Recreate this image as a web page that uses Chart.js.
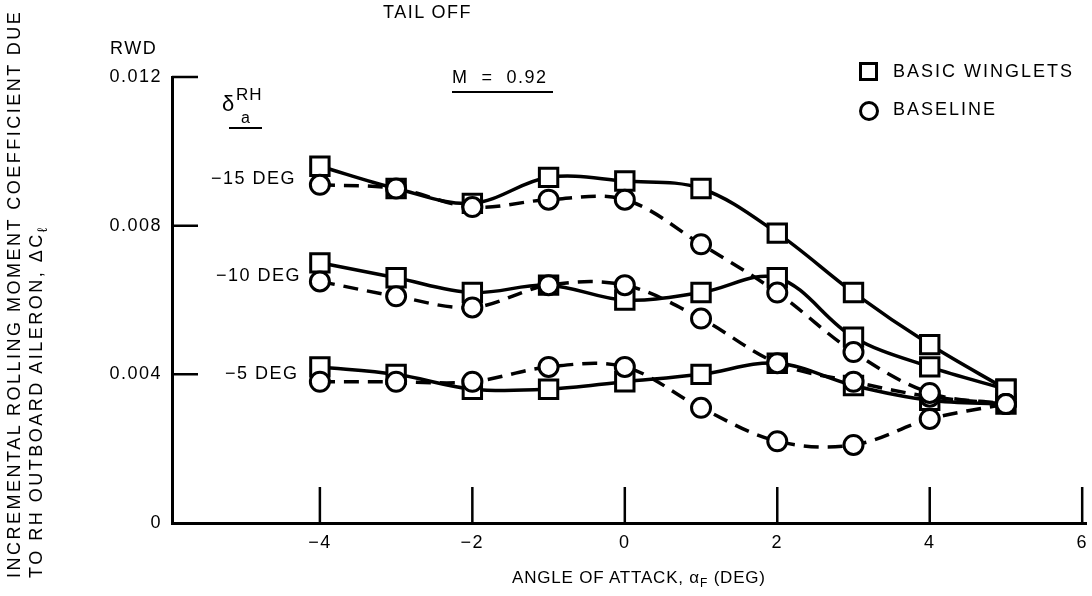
<!DOCTYPE html>
<html>
<head>
<meta charset="utf-8">
<script src="https://cdn.jsdelivr.net/npm/chart.js@4/dist/chart.umd.min.js"></script>
<style>
  body { margin: 0; background: #fff; }
  #wrap { position: relative; width: 1092px; height: 596px; overflow: hidden; font-family: "Liberation Sans", Arial, sans-serif; color: #000; }
  #wrap canvas { position: absolute; left: 0; top: 0; }
  .txt { position: absolute; white-space: nowrap; font-size: 18px; line-height: 20px; letter-spacing: 1.5px; }
  .rule { position: absolute; height: 2px; background: #000; }
  .ytitle { position: absolute; left: 0; top: 596px; width: 590px; padding-left: 18px; padding-top: 3px;
            transform: rotate(-90deg); transform-origin: 0 0; font-size: 18px; line-height: 22px; letter-spacing: 2.5px; white-space: nowrap; }
  .key-sq { position: absolute; width: 13px; height: 13px; border: 3px solid #000; }
  .key-ci { position: absolute; width: 14px; height: 14px; border: 3px solid #000; border-radius: 50%; }
</style>
</head>
<body>
<div id="wrap">
  <!-- a little wider than the page: the line points reserve 16px of overflow on the right -->
  <canvas id="chart" width="1102" height="596"></canvas>

  <div class="txt" style="left:383px; top:2px;">TAIL OFF</div>
  <div class="txt" style="left:110px; top:38px;">RWD</div>

  <div class="txt" style="left:452px; top:67px;">M&nbsp; = &nbsp;0.92</div>
  <div class="rule" style="left:452px; top:91px; width:101px;"></div>

  <div class="key-sq" style="left:859px; top:62px;"></div>
  <div class="txt" style="left:893px; top:61px; letter-spacing:2px;">BASIC WINGLETS</div>
  <div class="key-ci" style="left:859px; top:101px;"></div>
  <div class="txt" style="left:893px; top:99px; letter-spacing:2px;">BASELINE</div>

  <div class="txt" style="left:222px; top:94px; font-size:22px;">δ</div>
  <div class="txt" style="left:236px; top:85px; font-size:17px; letter-spacing:1px;">RH</div>
  <div class="txt" style="left:241px; top:108px; font-size:16px;">a</div>
  <div class="rule" style="left:229px; top:127px; width:33px;"></div>

  <div class="txt" style="left:211px; top:168px;">−15 DEG</div>
  <div class="txt" style="left:216px; top:265px;">−10 DEG</div>
  <div class="txt" style="left:225px; top:363px;">−5 DEG</div>

  <div class="ytitle">INCREMENTAL ROLLING MOMENT COEFFICIENT DUE<br>TO RH OUTBOARD AILERON, ΔC<sub style="font-size:14px;">ℓ</sub></div>
  <div class="txt" style="left:512px; top:568px; font-size:17px; letter-spacing:0.8px;">ANGLE OF ATTACK, α<sub style="font-size:12px;">F</sub> (DEG)</div>
</div>

<script>
// angle of attack, deg
const alpha = [-4, -3, -2, -1, 0, 1, 2, 3, 4, 5];

// incremental rolling moment, basic winglets (squares, solid)
const winglets15 = [0.0096, 0.0090, 0.0086, 0.0093, 0.0092, 0.0090, 0.0078, 0.0062, 0.0048, 0.0036];
const winglets10 = [0.0070, 0.0066, 0.0062, 0.0064, 0.0060, 0.0062, 0.0066, 0.0050, 0.0042, 0.0036];
const winglets5  = [0.0042, 0.0040, 0.0036, 0.0036, 0.0038, 0.0040, 0.0043, 0.0037, 0.0033, 0.0032];

// incremental rolling moment, baseline (circles, dashed)
const baseline15 = [0.0091, 0.0090, 0.0085, 0.0087, 0.0087, 0.0075, 0.0062, 0.0046, 0.0035, 0.0032];
const baseline10 = [0.0065, 0.0061, 0.0058, 0.0064, 0.0064, 0.0055, 0.0043, 0.0038, 0.0034, 0.0032];
const baseline5  = [0.0038, 0.0038, 0.0038, 0.0042, 0.0042, 0.0031, 0.0022, 0.0021, 0.0028, 0.0032];

const xTicks = [-4, -2, 0, 2, 4, 6];
const yTicks = [0, 0.004, 0.008, 0.012];

const INK = '#000';
const FONT = '"Liberation Sans", Arial, sans-serif';

function points(values) {
  return values.map((v, i) => ({ x: alpha[i], y: v }));
}

function baselineSet(label, values) {
  return {
    label: label,
    data: points(values),
    borderColor: INK,
    borderWidth: 3.5,
    borderDash: [15, 9],
    tension: 0.35,
    pointStyle: 'circle',
    pointRadius: 9.5,
    pointBorderWidth: 3,
    pointBackgroundColor: '#fff',
    pointBorderColor: INK,
  };
}

function wingletSet(label, values) {
  return {
    label: label,
    data: points(values),
    borderColor: INK,
    borderWidth: 3.5,
    tension: 0.35,
    pointStyle: 'rect',
    pointRadius: 13,
    pointBorderWidth: 3,
    pointBackgroundColor: '#fff',
    pointBorderColor: INK,
  };
}

// tick marks point into the plot, not outward
const innerTicks = {
  id: 'innerTicks',
  beforeDatasetsDraw(chart) {
    const { ctx, chartArea, scales: { x, y } } = chart;
    ctx.save();
    ctx.strokeStyle = INK;
    ctx.lineWidth = 2.5;
    ctx.beginPath();
    x.ticks.forEach(t => {
      const px = x.getPixelForValue(t.value);
      ctx.moveTo(px, chartArea.bottom);
      ctx.lineTo(px, chartArea.bottom - 36);
    });
    y.ticks.forEach(t => {
      if (t.value === 0) return;
      const py = y.getPixelForValue(t.value);
      ctx.moveTo(chartArea.left, py);
      ctx.lineTo(chartArea.left + 26, py);
    });
    ctx.stroke();
    ctx.restore();
  }
};

const spacing = {
  id: 'spacing',
  beforeDraw(chart) {
    chart.ctx.letterSpacing = '1.5px';
  }
};

new Chart(document.getElementById('chart'), {
  type: 'line',
  data: {
    datasets: [
      baselineSet('-15 baseline', baseline15),
      baselineSet('-10 baseline', baseline10),
      baselineSet('-5 baseline', baseline5),
      wingletSet('-15 winglets', winglets15),
      wingletSet('-10 winglets', winglets10),
      wingletSet('-5 winglets', winglets5),
    ]
  },
  options: {
    responsive: false,
    animation: false,
    layout: { padding: { left: 0, top: 77, right: 0, bottom: 0 } },
    plugins: {
      legend: { display: false },
      tooltip: { enabled: false },
    },
    scales: {
      x: {
        type: 'linear',
        min: -5.94,
        max: 6.05,
        afterBuildTicks: s => { s.ticks = xTicks.map(v => ({ value: v })); },
        afterFit: s => { s.height = 73; s.paddingLeft = 0; s.paddingRight = 0; },
        grid: { display: false, drawTicks: false },
        border: { display: true, color: INK, width: 3 },
        ticks: {
          padding: 9,
          color: INK,
          font: { family: FONT, size: 18 },
          callback: v => v < 0 ? '−' + Math.abs(v) : String(v),
        }
      },
      y: {
        type: 'linear',
        min: 0,
        max: 0.012,
        afterBuildTicks: s => { s.ticks = yTicks.map(v => ({ value: v })); },
        afterFit: s => { s.width = 172; s.paddingTop = 0; s.paddingBottom = 0; },
        grid: { display: false, drawTicks: false },
        border: { display: true, color: INK, width: 3 },
        ticks: {
          padding: 10,
          color: INK,
          font: { family: FONT, size: 18 },
          callback: v => v === 0 ? '0' : v.toFixed(3),
        }
      }
    }
  },
  plugins: [innerTicks, spacing]
});
</script>
</body>
</html>
